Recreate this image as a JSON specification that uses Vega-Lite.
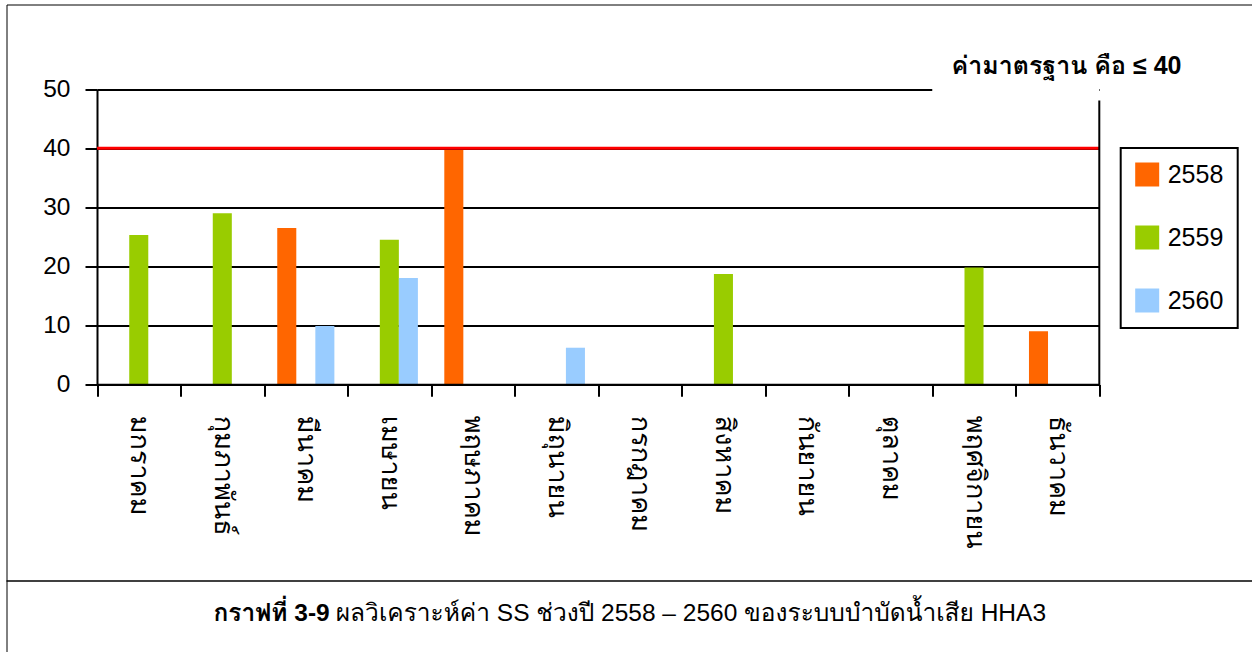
{
  "$schema": "https://vega.github.io/schema/vega-lite/v6.json",
  "autosize": {"type": "none"},
  "width": 1245.5,
  "height": 647.5,
  "padding": {"left": 6.5, "top": 4.5, "right": 0, "bottom": 0},
  "background": "white",
  "config": {
    "view": {"stroke": "black", "strokeWidth": 1},
    "font": "Liberation Sans, sans-serif"
  },
  "data": {
    "values": [
      {"month": "มกราคม", "year": "2559", "ss": 25.3},
      {"month": "กุมภาพันธ์", "year": "2559", "ss": 29.0},
      {"month": "มีนาคม", "year": "2558", "ss": 26.5},
      {"month": "มีนาคม", "year": "2560", "ss": 9.9},
      {"month": "เมษายน", "year": "2559", "ss": 24.5},
      {"month": "เมษายน", "year": "2560", "ss": 18.0},
      {"month": "พฤษภาคม", "year": "2558", "ss": 39.7},
      {"month": "มิถุนายน", "year": "2560", "ss": 6.2},
      {"month": "สิงหาคม", "year": "2559", "ss": 18.7},
      {"month": "พฤศจิกายน", "year": "2559", "ss": 19.8},
      {"month": "ธันวาคม", "year": "2558", "ss": 9.0}
    ]
  },
  "layer": [
    {
      "mark": {"type": "bar"},
      "encoding": {
        "x": {
          "field": "month",
          "type": "nominal",
          "sort": null,
          "scale": {
            "domain": ["มกราคม", "กุมภาพันธ์", "มีนาคม", "เมษายน", "พฤษภาคม", "มิถุนายน", "กรกฎาคม", "สิงหาคม", "กันยายน", "ตุลาคม", "พฤศจิกายน", "ธันวาคม"],
            "range": [90.5, 1092.8],
            "paddingInner": 0,
            "paddingOuter": 0
          },
          "axis": {
            "orient": "bottom",
            "offset": -267.7,
            "title": null,
            "grid": false,
            "zindex": 1,
            "labelAngle": 90,
            "labelAlign": "left",
            "labelBaseline": "middle",
            "labelPadding": 19,
            "labelFont": "Tahoma, Garuda, Loma, Waree, Noto Sans Thai Looped, Noto Sans Thai, sans-serif",
            "labelFontSize": 27,
            "labelColor": "black",
            "tickBand": "extent",
            "tickSize": 12,
            "tickWidth": 2,
            "tickColor": "black",
            "domainColor": "black",
            "domainWidth": 2
          }
        },
        "xOffset": {
          "field": "year",
          "type": "nominal",
          "scale": {"domain": ["2558", "2559", "2560"], "paddingInner": 0, "paddingOuter": 0.693}
        },
        "y": {
          "field": "ss",
          "type": "quantitative",
          "scale": {"domain": [0, 50], "range": [379.8, 84.8], "nice": false},
          "axis": {
            "orient": "left",
            "offset": -90.5,
            "title": null,
            "values": [0, 10, 20, 30, 40, 50],
            "labelFontSize": 24.5,
            "labelColor": "black",
            "labelPadding": 15,
            "tickSize": 12,
            "tickWidth": 2,
            "tickColor": "black",
            "domainColor": "black",
            "domainWidth": 2,
            "grid": true,
            "gridColor": "black",
            "gridWidth": 2,
            "gridOpacity": 1
          }
        },
        "color": {
          "field": "year",
          "type": "nominal",
          "scale": {"domain": ["2558", "2559", "2560"], "range": ["#FF6600", "#99CC00", "#99CCFF"]},
          "legend": {
            "title": null,
            "orient": "none",
            "legendX": 1114.2,
            "legendY": 143.5,
            "direction": "vertical",
            "symbolType": "square",
            "symbolSize": 576,
            "symbolStrokeWidth": 0,
            "symbolOpacity": 1,
            "labelFont": "Liberation Sans",
            "labelFontSize": 25,
            "labelColor": "black",
            "labelOffset": 8,
            "padding": 14,
            "rowPadding": 37,
            "strokeColor": "black",
            "fillColor": "white",
            "encode": {"legend": {"update": {"strokeWidth": {"value": 2}}}}
          }
        }
      }
    },
    {
      "data": {"values": [{"limit": 40}]},
      "mark": {"type": "rule", "color": "#FF0000", "strokeWidth": 3},
      "encoding": {
        "x": {"datum": "มกราคม", "bandPosition": 0},
        "x2": {"datum": "ธันวาคม", "bandPosition": 1},
        "y": {"field": "limit", "type": "quantitative"}
      }
    },
    {
      "data": {"values": [{}]},
      "mark": {"type": "rect", "color": "white"},
      "encoding": {
        "x": {"datum": "พฤศจิกายน", "bandPosition": 0},
        "x2": {"datum": "ธันวาคม", "bandPosition": 1},
        "y": {"datum": 48.1},
        "y2": {"datum": 51.5}
      }
    },
    {
      "data": {"values": [{}]},
      "mark": {"type": "rule", "color": "black", "strokeWidth": 2},
      "encoding": {
        "x": {"datum": "ธันวาคม", "bandPosition": 1},
        "y": {"datum": 0},
        "y2": {"datum": 48.1}
      }
    },
    {
      "data": {"values": [{}]},
      "mark": {
        "type": "text",
        "text": "ค่ามาตรฐาน คือ ≤ 40",
        "font": "Liberation Sans, Tahoma, Garuda, Loma, Waree, Noto Sans Thai Looped, Noto Sans Thai, sans-serif",
        "fontSize": 25,
        "fontWeight": "bold",
        "align": "center",
        "baseline": "middle",
        "dx": 9,
        "color": "black"
      },
      "encoding": {
        "x": {"datum": "ธันวาคม"},
        "y": {"datum": 54}
      }
    },
    {
      "data": {"values": [{}]},
      "mark": {"type": "rule", "color": "black", "strokeWidth": 1.5},
      "encoding": {
        "y": {"datum": -33.34}
      }
    },
    {
      "data": {"values": [{}]},
      "mark": {
        "type": "text",
        "text": "กราฟที่ 3-9",
        "font": "Liberation Sans Narrow, Liberation Sans, Tahoma, Garuda, Loma, Waree, Noto Sans Thai Looped, Noto Sans Thai, sans-serif",
        "fontSize": 24.5,
        "fontWeight": "bold",
        "align": "right",
        "baseline": "alphabetic",
        "dx": -299.5,
        "color": "black"
      },
      "encoding": {
        "y": {"datum": -40.2}
      }
    },
    {
      "data": {"values": [{}]},
      "mark": {
        "type": "text",
        "text": "ผลวิเคราะห์ค่า SS ช่วงปี 2558 – 2560 ของระบบบำบัดน้ำเสีย HHA3",
        "font": "Liberation Sans Narrow, Liberation Sans, Tahoma, Garuda, Loma, Waree, Noto Sans Thai Looped, Noto Sans Thai, sans-serif",
        "fontSize": 24.5,
        "align": "left",
        "baseline": "alphabetic",
        "dx": -293.5,
        "color": "black"
      },
      "encoding": {
        "y": {"datum": -40.2}
      }
    }
  ]
}
